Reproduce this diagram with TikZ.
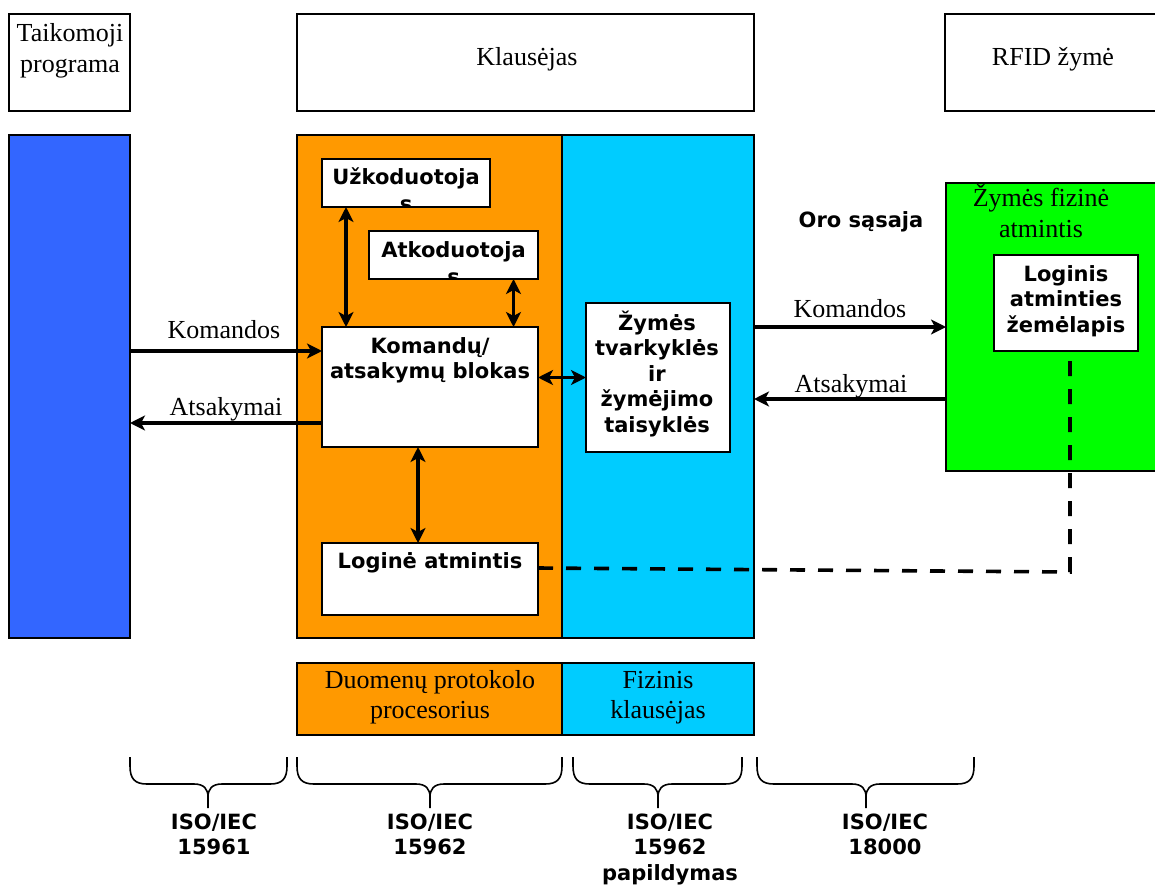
\documentclass[tikz,border=0pt]{standalone}
\usepackage{fontspec}
\setmainfont{Liberation Serif}
\newfontfamily\labelsans{DejaVu Sans}
\usetikzlibrary{arrows.meta}

\definecolor{appblue}{RGB}{51,102,255}
\definecolor{dppor}{RGB}{255,153,0}
\definecolor{physcyan}{RGB}{0,204,255}
\definecolor{taggreen}{RGB}{0,255,0}

% centred lines whose baseline is the first line
\newcommand{\stack}[1]{\begin{tabular}[t]{@{}c@{}}#1\end{tabular}}

% curly brace under a group of blocks: left end, tip, right end
\newcommand{\isobrace}[3]{%
  \draw[bracepath] (#1,757) -- (#1,766)
    .. controls (#1,779) and ({#1+5},784) .. ({#1+17},784)
    -- ({#2-14},784)
    .. controls ({#2-4},784) and (#2,789) .. (#2,797) -- (#2,808)
    -- (#2,797)
    .. controls (#2,789) and ({#2+4},784) .. ({#2+14},784)
    -- ({#3-17},784)
    .. controls ({#3-5},784) and (#3,779) .. (#3,766) -- (#3,757);}

\tikzset{
  blk/.style={draw=black, line width=1.8pt, inner sep=0pt, outer sep=0pt},
  serif/.style={font=\fontsize{26}{31}\selectfont, inner sep=0pt, anchor=base},
  serifwide/.style={font=\fontsize{26}{30}\selectfont, inner sep=0pt, anchor=base},
  sansb/.style={font=\labelsans\bfseries\fontsize{21}{25.5}\selectfont, inner sep=0pt, anchor=base},
  clipped/.style={font=\labelsans\bfseries\fontsize{21}{27}\selectfont, inner sep=0pt, anchor=base},
  tipshape/.style={},
  arr/.style={line width=3.4pt, -{Stealth[length=15pt,width=15pt,inset=4pt]}},
  dbl/.style={line width=3.4pt, {Stealth[length=15pt,width=15pt,inset=4pt]}-{Stealth[length=15pt,width=15pt,inset=4pt]}},
  dashlink/.style={line width=3.6pt, dash pattern=on 15pt off 13pt},
  bracepath/.style={line width=1.6pt},
}

\begin{document}
\begin{tikzpicture}[x=1pt,y=-1pt]
\useasboundingbox (0,0) rectangle (1155,885);
\clip (0,0) rectangle (1155,885);

% header boxes
\node[blk, fill=white, minimum width=121, minimum height=97] (taik) at (69.5,62.5) {};
\node[blk, fill=white, minimum width=457, minimum height=97] (klaus) at (525.5,62.5) {};
\node[blk, fill=white, minimum width=225, minimum height=97] (rfid) at (1057.5,62.5) {};
\node[serif] (taikt) at (70,42) {\stack{Taikomoji\\programa}};
\node[serif] (klaust) at (527,66) {Klausėjas};
\node[serif] (rfidt) at (1053,66) {RFID žymė};

% main columns
\node[blk, fill=appblue, minimum width=121, minimum height=503] (blue) at (69.5,386.5) {};
\node[blk, fill=dppor, minimum width=265, minimum height=503] (orange) at (429.5,386.5) {};
\node[blk, fill=physcyan, minimum width=192, minimum height=503] (cyan) at (658,386.5) {};
\node[blk, fill=taggreen, minimum width=224, minimum height=288] (green) at (1058,327) {};

% inner blocks
\node[blk, fill=white, minimum width=168, minimum height=48] (uzk) at (406,183) {};
\begin{scope}
  \clip (uzk.south west) rectangle (uzk.north east);
  \node[clipped] (uzkt) at (406,185) {\stack{Užkoduotoja\\s}};
\end{scope}
\node[blk, fill=white, minimum width=169, minimum height=48] (atk) at (453.5,255) {};
\begin{scope}
  \clip (atk.south west) rectangle (atk.north east);
  \node[clipped] (atkt) at (453.5,257) {\stack{Atkoduotoja\\s}};
\end{scope}
\node[blk, fill=white, minimum width=216, minimum height=120] (kom) at (430,387) {};
\node[sansb] (komt) at (430,353) {\stack{Komandų/\\atsakymų blokas}};
\node[blk, fill=white, minimum width=216, minimum height=72] (lga) at (430,579) {};
\node[sansb] (lgat) at (430,568) {Loginė atmintis};
\node[blk, fill=white, minimum width=144, minimum height=149] (zym) at (658,377.5) {};
\node[sansb] (zymt) at (657,330) {\stack{Žymės\\tvarkyklės\\ir\\žymėjimo\\taisyklės}};
\node[serif] (greent) at (1041,207) {\stack{Žymės fizinė\\atmintis}};
\node[blk, fill=white, minimum width=144, minimum height=96] (lgm) at (1066,303) {};
\node[sansb] (lgmt) at (1066,281) {\stack{Loginis\\atminties\\žemėlapis}};
\node[sansb] (oro) at (861,228) {Oro sąsaja};

% bottom legend boxes
\node[blk, fill=dppor, minimum width=265, minimum height=72] (dpp) at (429.5,699) {};
\node[blk, fill=physcyan, minimum width=192, minimum height=72] (fk) at (658,699) {};
\node[serifwide] (dppt) at (430,688) {\stack{Duomenų protokolo\\procesorius}};
\node[serifwide] (fkt) at (658,688) {\stack{Fizinis\\klausėjas}};

% internal links
\draw[dbl] ([xshift=-60pt]uzk.south) -- ([xshift=-60pt]uzk.south |- kom.north);
\draw[dbl] ([xshift=60pt]atk.south) -- ([xshift=60pt]atk.south |- kom.north);
\draw[dbl] (kom.east |- zym.west) -- (zym.west);
\draw[dbl] ([xshift=-12pt]kom.south) -- ([xshift=-12pt]kom.south |- lga.north);

% application interface
\draw[arr] ([yshift=36pt]kom.west -| blue.east) -- ([yshift=36pt]kom.west);
\draw[arr] ([yshift=-36pt]kom.west) -- ([yshift=-36pt]kom.west -| blue.east);
\node[serif] (komL) at (224,338) {Komandos};
\node[serif] (atsL) at (226,415) {Atsakymai};

% air interface
\draw[arr] (green.west -| cyan.east) -- (green.west);
\draw[arr] ([yshift=-72pt]green.west) -- ([yshift=-72pt]green.west -| cyan.east);
\node[serif] (komR) at (850,317) {Komandos};
\node[serif] (atsR) at (851,392) {Atsakymai};

% logical memory to memory map
\coordinate (dcorner) at (1070,572);
\draw[dashlink] ([yshift=11pt]lga.east) -- (dcorner) -- (dcorner |- lgm.south);

% standards
\isobrace{130}{208}{287}
\isobrace{297}{430}{562}
\isobrace{573}{658}{742}
\isobrace{757}{866}{974}
\node[sansb] (iso1) at (214,829) {\stack{ISO/IEC\\15961}};
\node[sansb] (iso2) at (430,829) {\stack{ISO/IEC\\15962}};
\node[sansb] (iso3) at (670,829) {\stack{ISO/IEC\\15962\\papildymas}};
\node[sansb] (iso4) at (885,829) {\stack{ISO/IEC\\18000}};
\end{tikzpicture}
\end{document}
